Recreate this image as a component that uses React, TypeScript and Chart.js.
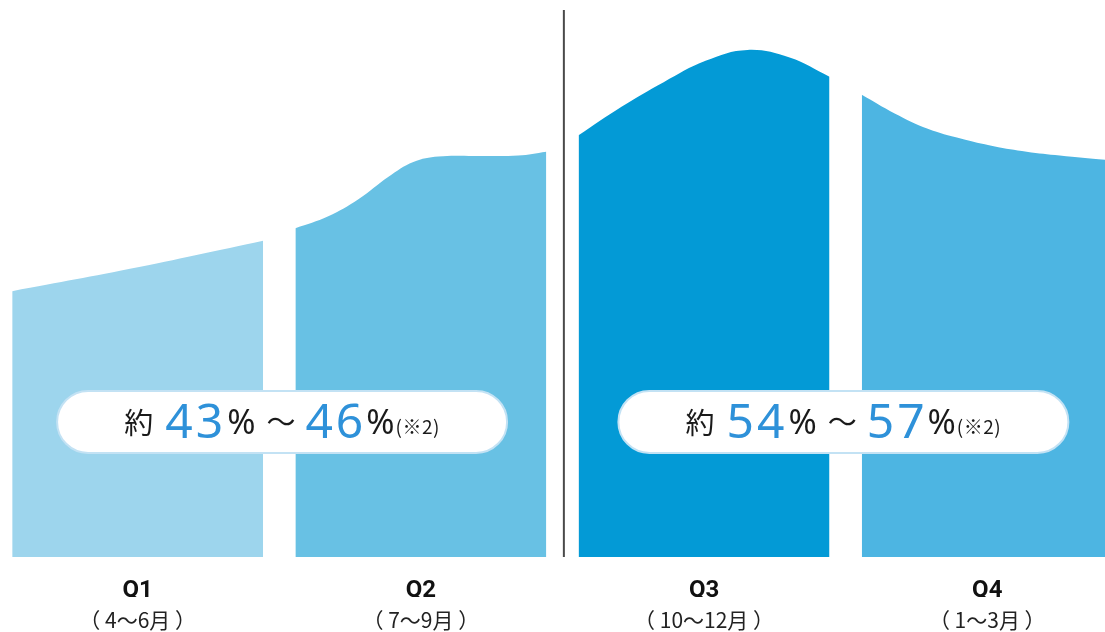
import React, { useEffect, useRef } from "react";
import { Chart, registerables } from "chart.js";

Chart.register(...registerables);

// ---- data ----
const quarters = ["Q1", "Q2", "Q3", "Q4"];
const monthRanges = ["（ 4〜6月 ）", "（ 7〜9月 ）", "（ 10〜12月 ）", "（ 1〜3月 ）"];
const quarterColors = ["#9dd5ed", "#68c1e4", "#039ad6", "#4db5e2"];

// sample positions inside each quarter (0 = start, 1 = end) and the curve height there
const q1Pos = [0, 0.506, 1];
const q1Val = [48.6, 53.0, 57.8];
const q2Pos = [0, 0.131, 0.251, 0.371, 0.47, 0.57, 0.729, 0.888, 1];
const q2Val = [60.1, 62.3, 65.4, 69.5, 72.2, 73.2, 73.3, 73.4, 74.1];
const q3Pos = [0, 0.171, 0.339, 0.506, 0.673, 0.841, 1];
const q3Val = [77.1, 82.3, 86.8, 90.7, 92.7, 91.3, 87.8];
const q4Pos = [0, 0.131, 0.263, 0.394, 0.526, 0.657, 0.789, 0.972];
const q4Val = [84.5, 81.1, 78.3, 76.5, 75.1, 74.1, 73.4, 72.6];

const quarterWidth = 0.886; // share of each quarter slot that is filled
const dividerAt = 1.948; // half-year divider (between Q2 and Q3)

// range call-outs
const rangeLow = [43, 54];
const rangeHigh = [46, 57];
const rangeNote = "(※2)";
const rangeCenters = [0.953, 2.935];
const rangeLevel = 24.7;

const xMin = -0.0431;
const xMax = 3.8588;

const seriesPos = [q1Pos, q2Pos, q3Pos, q4Pos];
const seriesVal = [q1Val, q2Val, q3Val, q4Val];
const quarterCenters = quarters.map((_, i) => i + quarterWidth / 2);

const BLUE = "#2e91d9";
const INK = "#1a1a1a";
const CJK = "'Noto Sans CJK JP', 'Noto Sans', sans-serif";
const LATIN = "'Noto Sans', sans-serif";

const pillPlugin = {
  id: "rangePills",
  afterDatasetsDraw(chart: any) {
    const ctx: any = chart.ctx;
    const xs = chart.scales.x;
    const ys = chart.scales.y;
    rangeCenters.forEach((c, i) => {
      const cx = xs.getPixelForValue(c);
      const cy = ys.getPixelForValue(rangeLevel);
      const w = 450;
      const h = 62;
      ctx.save();
      ctx.beginPath();
      ctx.roundRect(cx - w / 2, cy - h / 2, w, h, h / 2);
      ctx.fillStyle = "#ffffff";
      ctx.fill();
      ctx.lineWidth = 2;
      ctx.strokeStyle = "#c3e2f4";
      ctx.stroke();

      const runs = [
        { t: "約", font: `400 29px ${CJK}`, color: INK, dy: 12, gap: 12, ls: 0 },
        { t: String(rangeLow[i]), font: `400 48px ${LATIN}`, color: BLUE, dy: 16, gap: 1, ls: 3 },
        { t: "%", font: `400 34px ${LATIN}`, color: INK, dy: 12, gap: 11, ls: 0 },
        { t: "〜", font: `400 29px ${CJK}`, color: INK, dy: 11, gap: 10, ls: 0 },
        { t: String(rangeHigh[i]), font: `400 48px ${LATIN}`, color: BLUE, dy: 16, gap: 0, ls: 3 },
        { t: "%", font: `400 34px ${LATIN}`, color: INK, dy: 12, gap: 1, ls: 0 },
        { t: rangeNote, font: `400 19px ${CJK}`, color: INK, dy: 12, gap: 0, ls: 0.5 },
      ];
      let total = 0;
      const widths = runs.map((r) => {
        ctx.font = r.font;
        ctx.letterSpacing = `${r.ls}px`;
        const wd = ctx.measureText(r.t).width;
        total += wd + r.gap;
        return wd;
      });
      total -= runs[runs.length - 1].gap;
      let x = cx - total / 2;
      ctx.textBaseline = "alphabetic";
      ctx.textAlign = "left";
      runs.forEach((r, k) => {
        ctx.font = r.font;
        ctx.letterSpacing = `${r.ls}px`;
        ctx.fillStyle = r.color;
        ctx.fillText(r.t, x, cy + r.dy);
        x += widths[k] + r.gap;
      });
      ctx.letterSpacing = "0px";
      ctx.restore();
    });
  },
};

export default function App() {
  const ref = useRef<HTMLCanvasElement | null>(null);

  useEffect(() => {
    if (!ref.current) return;
    const datasets: any[] = seriesPos.map((pos, q) => ({
      label: quarters[q],
      data: pos.map((p, k) => ({ x: q + p * quarterWidth, y: seriesVal[q][k] })),
      backgroundColor: quarterColors[q],
      borderColor: quarterColors[q],
      borderWidth: 0,
      pointRadius: 0,
      fill: "origin",
      tension: 0.4,
    }));
    datasets.push({
      label: "divider",
      data: [
        { x: dividerAt, y: 0 },
        { x: dividerAt, y: 100 },
      ],
      borderColor: "#4a4a4a",
      borderWidth: 2,
      pointRadius: 0,
      fill: false,
    });

    const chart = new Chart(ref.current, {
      type: "line",
      data: { datasets },
      options: {
        animation: false,
        responsive: false,
        devicePixelRatio: 1,
        layout: { padding: { top: 10, left: 0, right: 0, bottom: 0 } },
        plugins: { legend: { display: false }, tooltip: { enabled: false } },
        scales: {
          y: { display: false, min: 0, max: 100 },
          x: {
            type: "linear",
            position: "bottom",
            weight: 0,
            min: xMin,
            max: xMax,
            grid: { display: false, drawTicks: false },
            border: { display: false },
            afterBuildTicks: (scale: any) => {
              scale.ticks = quarterCenters.map((v) => ({ value: v }));
            },
            afterFit: (scale: any) => {
              scale.height = 40;
            },
            ticks: {
              autoSkip: false,
              maxRotation: 0,
              minRotation: 0,
              padding: 20,
              color: "#111111",
              font: { family: "Roboto, sans-serif", size: 24, weight: "bold" },
              callback: (_v: any, i: number) => quarters[i],
            },
          },
          x2: {
            type: "linear",
            position: "bottom",
            weight: 1,
            min: xMin,
            max: xMax,
            grid: { display: false, drawTicks: false },
            border: { display: false },
            afterBuildTicks: (scale: any) => {
              scale.ticks = quarterCenters.map((v) => ({ value: v }));
            },
            afterFit: (scale: any) => {
              scale.height = 35;
            },
            ticks: {
              autoSkip: false,
              maxRotation: 0,
              minRotation: 0,
              padding: 10,
              color: "#222222",
              font: { family: CJK, size: 21 },
              callback: (_v: any, i: number) => monthRanges[i],
            },
          },
        },
      },
      plugins: [pillPlugin],
    } as any);
    return () => chart.destroy();
  }, []);

  return (
    <div style={{ position: "absolute", left: 0, top: 0, width: 1105, height: 632 }}>
      <canvas ref={ref} width={1105} height={632} style={{ display: "block" }} />
    </div>
  );
}
